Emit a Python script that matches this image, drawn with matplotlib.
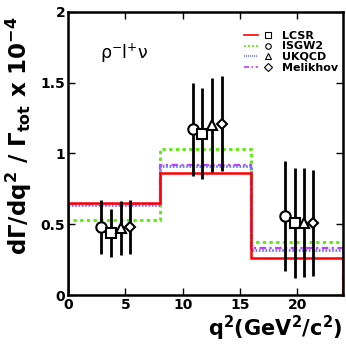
import numpy as np
import matplotlib
matplotlib.use('Agg')
import matplotlib.pyplot as plt
from matplotlib.legend_handler import HandlerTuple
from matplotlib.lines import Line2D

plt.rcParams.update({
    'font.family': 'DejaVu Sans',
    'font.weight': 'bold',
    'mathtext.fontset': 'dejavusans',
    'xtick.direction': 'in',
    'ytick.direction': 'in',
})

# q^2 bins (GeV^2/c^2)
BIN_EDGES = [0, 8, 16, 24]

# model predictions per bin (x 1e-4)
LCSR     = [0.648, 0.86, 0.26]
ISGW2    = [0.53, 1.03, 0.375]
UKQCD    = [0.636, 0.91, 0.32]
MELIKHOV = [0.640, 0.915, 0.334]

# measured points (slightly offset inside each bin)
PT_X = {
    'ISGW2':    [2.85, 10.9, 18.9],
    'LCSR':     [3.7, 11.7, 19.8],
    'UKQCD':    [4.6, 12.55, 20.6],
    'Melikhov': [5.4, 13.4, 21.4],
}
PT_Y = {
    'ISGW2':    [0.48, 1.17, 0.56],
    'LCSR':     [0.44, 1.14, 0.51],
    'UKQCD':    [0.475, 1.20, 0.51],
    'Melikhov': [0.48, 1.21, 0.51],
}
PT_ERR = {
    'ISGW2':    [0.19, 0.33, 0.39],
    'LCSR':     [0.17, 0.32, 0.39],
    'UKQCD':    [0.19, 0.33, 0.385],
    'Melikhov': [0.19, 0.335, 0.375],
}

STYLES = {
    'LCSR':     dict(color='#ff0000', ls='-',  lw=1.8, marker='s'),
    'ISGW2':    dict(color='#55ee00', ls=(0, (1.2, 1.2)), lw=2.0, marker='o'),
    'UKQCD':    dict(color='#6677ff', ls=(0, (0.6, 0.6)), lw=2.0, marker='^'),
    'Melikhov': dict(color='#c040ff', ls=(0, (3, 1.5, 1, 1.5)), lw=1.6, marker='D'),
}
MODELS = {'LCSR': LCSR, 'ISGW2': ISGW2, 'UKQCD': UKQCD, 'Melikhov': MELIKHOV}

fig = plt.figure(figsize=(3.46, 3.46), dpi=100)
ax = fig.add_axes([0.197, 0.147, 0.794, 0.819])

# histograms (draw green first, red on top)
for name in ['ISGW2', 'Melikhov', 'UKQCD', 'LCSR']:
    st = STYLES[name]
    ax.stairs(MODELS[name], BIN_EDGES, color=st['color'], linestyle=st['ls'],
              linewidth=st['lw'], baseline=0)

# data points
msize = {'o': 7.5, 's': 7.5, '^': 7.5, 'D': 5.5}
for name in ['ISGW2', 'LCSR', 'UKQCD', 'Melikhov']:
    st = STYLES[name]
    ax.errorbar(PT_X[name], PT_Y[name], yerr=PT_ERR[name], fmt=st['marker'],
                mfc='white', mec='black', mew=1.5, ms=msize[st['marker']],
                ecolor='black', elinewidth=2.0, capsize=0, zorder=5)

ax.set_xlim(0, 24)
ax.set_ylim(0, 2)
ax.set_xticks([0, 5, 10, 15, 20])
ax.set_yticks([0, 0.5, 1, 1.5, 2])
ax.set_xticklabels(['0', '5', '10', '15', '20'])
ax.set_yticklabels(['0', '0.5', '1', '1.5', '2'])
ax.tick_params(top=True, right=True, labelsize=10, length=5, width=1, pad=2)
for s in ax.spines.values():
    s.set_linewidth(1.8)

ax.set_xlabel(r'q$^{\mathbf{2}}$(GeV$^{\mathbf{2}}$/c$^{\mathbf{2}}$)', fontsize=15,
              fontweight='bold', loc='right', labelpad=1)
ax.set_ylabel(r'd$\Gamma$/dq$^{\mathbf{2}}$ / $\Gamma_{\mathbf{tot}}$ x 10$^{\mathbf{-4}}$',
              fontsize=16.5, fontweight='bold', loc='top')
ax.yaxis.set_label_coords(-0.125, 0.985)

ax.text(0.115, 0.855, r'$\mathregular{\rho^{-}l^{+}\nu}$', transform=ax.transAxes,
        fontsize=12.5, fontweight='normal', ha='left', va='center')

handles = []
for name in ['LCSR', 'ISGW2', 'UKQCD', 'Melikhov']:
    st = STYLES[name]
    ln = Line2D([], [], color=st['color'], linestyle=st['ls'], linewidth=1.2)
    mk = Line2D([], [], linestyle='none', marker=st['marker'], mfc='white',
                mec='black', mew=0.8, ms=4)
    handles.append((ln, mk))
ax.legend(handles, list(MODELS.keys()), handler_map={tuple: HandlerTuple(ndivide=None, pad=0.3)},
          loc='upper right', bbox_to_anchor=(1.01, 0.96), frameon=False,
          prop={'weight': 'bold', 'size': 8}, handlelength=2.8,
          labelspacing=0.05, handletextpad=0.6, borderaxespad=0.3)

fig.savefig('out.png', dpi=100)
